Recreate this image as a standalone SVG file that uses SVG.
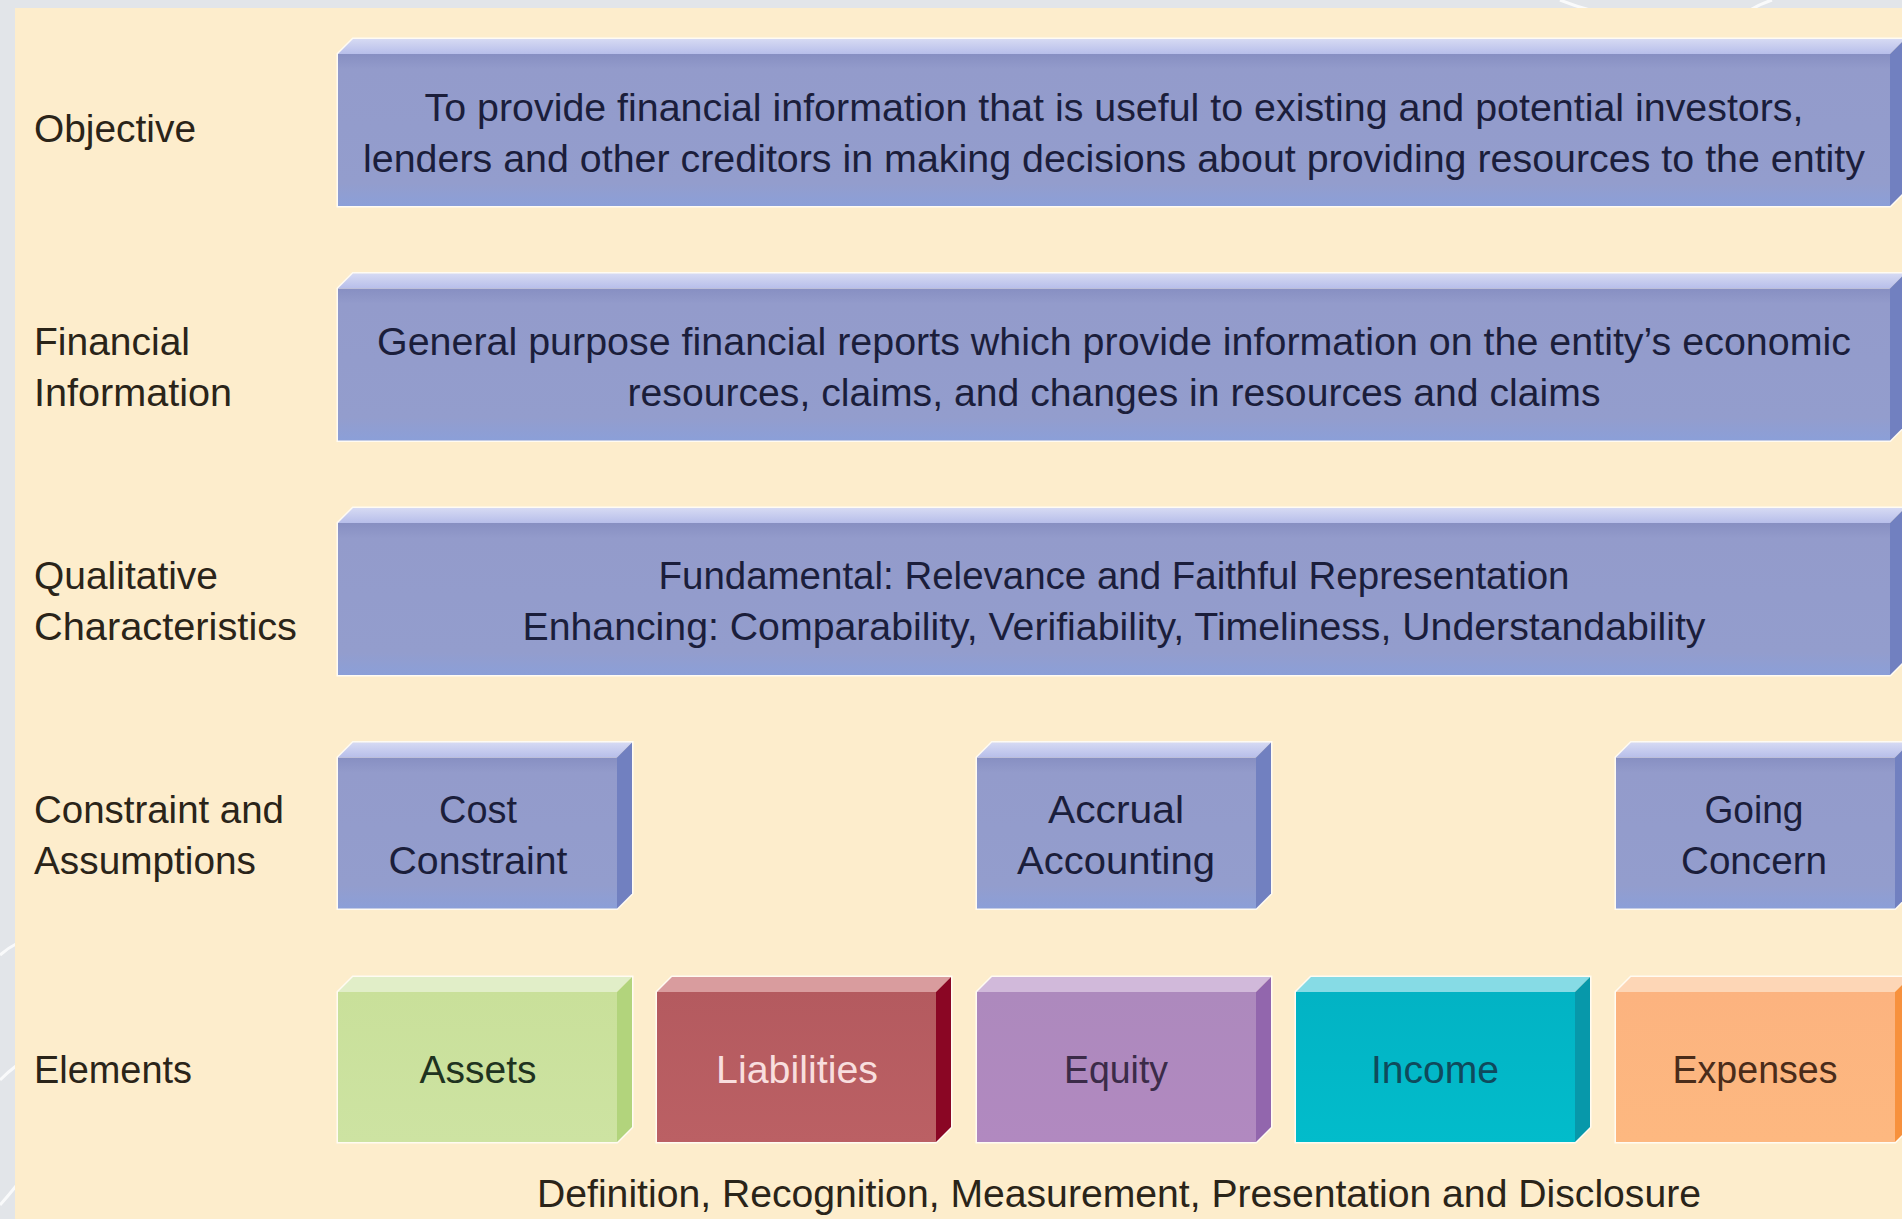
<svg xmlns="http://www.w3.org/2000/svg" width="1902" height="1219" viewBox="0 0 1902 1219">
<defs>
  <linearGradient id="bFront" x1="0" y1="0" x2="0" y2="1">
    <stop offset="0" stop-color="#878fc2"/>
    <stop offset="0.1" stop-color="#939bcb"/>
    <stop offset="0.85" stop-color="#939dcd"/>
    <stop offset="1" stop-color="#8b9fd8"/>
  </linearGradient>
  <linearGradient id="bTop" x1="0" y1="0" x2="0" y2="1">
    <stop offset="0" stop-color="#d6daf3"/>
    <stop offset="1" stop-color="#b7beea"/>
  </linearGradient>
  <linearGradient id="gFront" x1="0" y1="0" x2="0" y2="1">
    <stop offset="0" stop-color="#c9e09a"/>
    <stop offset="1" stop-color="#cde3a2"/>
  </linearGradient>
  <linearGradient id="rFront" x1="0" y1="0" x2="0" y2="1">
    <stop offset="0" stop-color="#b45a5f"/>
    <stop offset="1" stop-color="#bb6064"/>
  </linearGradient>
  <linearGradient id="pFront" x1="0" y1="0" x2="0" y2="1">
    <stop offset="0" stop-color="#ad89bd"/>
    <stop offset="1" stop-color="#b189c0"/>
  </linearGradient>
  <linearGradient id="cFront" x1="0" y1="0" x2="0" y2="1">
    <stop offset="0" stop-color="#02b3c4"/>
    <stop offset="1" stop-color="#02bccb"/>
  </linearGradient>
  <linearGradient id="oFront" x1="0" y1="0" x2="0" y2="1">
    <stop offset="0" stop-color="#fcb37f"/>
    <stop offset="1" stop-color="#fdb880"/>
  </linearGradient>
</defs>
<style>
  .lbl{font-family:"Liberation Sans",Arial,sans-serif;font-size:38px;fill:#2a2419}
  .bt{font-family:"Liberation Sans",Arial,sans-serif;font-size:38px;fill:#1b1e3b;text-anchor:middle}
  .glow{fill:none;stroke:#ffffff;stroke-opacity:0.75;stroke-width:3}
  .blue .front{fill:url(#bFront)}
  .blue .top{fill:url(#bTop)}
  .blue .side{fill:#7180c0}
  .green .front{fill:url(#gFront)}
  .green .top{fill:#e1eec8}
  .green .side{fill:#b2d47c}
  .red .front{fill:url(#rFront)}
  .red .top{fill:#d99c9e}
  .red .side{fill:#8a0624}
  .purple .front{fill:url(#pFront)}
  .purple .top{fill:#d1b9da}
  .purple .side{fill:#9266ad}
  .cyan .front{fill:url(#cFront)}
  .cyan .top{fill:#86dbe5}
  .cyan .side{fill:#0798aa}
  .orange .front{fill:url(#oFront)}
  .orange .top{fill:#fdd6b6}
  .orange .side{fill:#f7913d}
  .deco{fill:none;stroke:#ffffff;stroke-width:3;stroke-opacity:0.8}
</style>

<!-- background -->
<rect x="0" y="0" width="1902" height="1219" fill="#e2e5e9"/>
<path class="deco" d="M1560,0 Q1575,6 1590,10"/>
<path class="deco" d="M1750,10 Q1760,4 1772,0"/>
<path class="deco" d="M0,955 Q8,948 16,944"/>
<path class="deco" d="M0,1080 Q8,1072 16,1066"/>
<path class="deco" d="M0,1205 Q8,1196 16,1186"/>
<rect x="15" y="8" width="1887" height="1211" fill="#fdedcc"/>

<!-- row labels -->
<g id="labels">
  <text class="lbl" x="34" y="142" textLength="162" lengthAdjust="spacingAndGlyphs">Objective</text>
  <text class="lbl" x="34" y="355" textLength="156" lengthAdjust="spacingAndGlyphs">Financial</text>
  <text class="lbl" x="34" y="406" textLength="198" lengthAdjust="spacingAndGlyphs">Information</text>
  <text class="lbl" x="34" y="589" textLength="184" lengthAdjust="spacingAndGlyphs">Qualitative</text>
  <text class="lbl" x="34" y="640" textLength="263" lengthAdjust="spacingAndGlyphs">Characteristics</text>
  <text class="lbl" x="34" y="823" textLength="250" lengthAdjust="spacingAndGlyphs">Constraint and</text>
  <text class="lbl" x="34" y="874" textLength="222" lengthAdjust="spacingAndGlyphs">Assumptions</text>
  <text class="lbl" x="34" y="1083" textLength="158" lengthAdjust="spacingAndGlyphs">Elements</text>
</g>

<!-- wide rows -->
<g id="objective" class="blue" transform="translate(338,54)">
  <path class="glow" d="M0,0 L15,-15 L1567,-15 L1567,137 L1552,152 L0,152 Z"/>
  <rect class="front" x="0" y="0" width="1552" height="152"/>
  <polygon class="top" points="0,0 15,-15 1567,-15 1552,0"/>
  <polygon class="side" points="1552,0 1567,-15 1567,137 1552,152"/>
  <text class="bt" x="776" y="67" textLength="1379" lengthAdjust="spacingAndGlyphs">To provide financial information that is useful to existing and potential investors,</text>
  <text class="bt" x="776" y="118" textLength="1502" lengthAdjust="spacingAndGlyphs">lenders and other creditors in making decisions about providing resources to the entity</text>
</g>

<g id="financial-information" class="blue" transform="translate(338,288.5)">
  <path class="glow" d="M0,0 L15,-15 L1567,-15 L1567,137 L1552,152 L0,152 Z"/>
  <rect class="front" x="0" y="0" width="1552" height="152"/>
  <polygon class="top" points="0,0 15,-15 1567,-15 1552,0"/>
  <polygon class="side" points="1552,0 1567,-15 1567,137 1552,152"/>
  <text class="bt" x="776" y="66.5" textLength="1474" lengthAdjust="spacingAndGlyphs">General purpose financial reports which provide information on the entity’s economic</text>
  <text class="bt" x="776" y="117.5" textLength="973" lengthAdjust="spacingAndGlyphs">resources, claims, and changes in resources and claims</text>
</g>

<g id="qualitative-characteristics" class="blue" transform="translate(338,523)">
  <path class="glow" d="M0,0 L15,-15 L1567,-15 L1567,137 L1552,152 L0,152 Z"/>
  <rect class="front" x="0" y="0" width="1552" height="152"/>
  <polygon class="top" points="0,0 15,-15 1567,-15 1552,0"/>
  <polygon class="side" points="1552,0 1567,-15 1567,137 1552,152"/>
  <text class="bt" x="776" y="66" textLength="911" lengthAdjust="spacingAndGlyphs">Fundamental: Relevance and Faithful Representation</text>
  <text class="bt" x="776" y="117" textLength="1183" lengthAdjust="spacingAndGlyphs">Enhancing: Comparability, Verifiability, Timeliness, Understandability</text>
</g>

<!-- constraint & assumptions -->
<g id="cost-constraint" class="blue" transform="translate(338,757.5)">
  <path class="glow" d="M0,0 L15,-15 L294,-15 L294,136 L279,151 L0,151 Z"/>
  <rect class="front" x="0" y="0" width="279" height="151"/>
  <polygon class="top" points="0,0 15,-15 294,-15 279,0"/>
  <polygon class="side" points="279,0 294,-15 294,136 279,151"/>
  <text class="bt" x="140" y="65.5" textLength="78" lengthAdjust="spacingAndGlyphs">Cost</text>
  <text class="bt" x="140" y="116.5" textLength="179" lengthAdjust="spacingAndGlyphs">Constraint</text>
</g>

<g id="accrual-accounting" class="blue" transform="translate(977,757.5)">
  <path class="glow" d="M0,0 L15,-15 L294,-15 L294,136 L279,151 L0,151 Z"/>
  <rect class="front" x="0" y="0" width="279" height="151"/>
  <polygon class="top" points="0,0 15,-15 294,-15 279,0"/>
  <polygon class="side" points="279,0 294,-15 294,136 279,151"/>
  <text class="bt" x="139" y="65.5" textLength="136" lengthAdjust="spacingAndGlyphs">Accrual</text>
  <text class="bt" x="139" y="116.5" textLength="198" lengthAdjust="spacingAndGlyphs">Accounting</text>
</g>

<g id="going-concern" class="blue" transform="translate(1616,757.5)">
  <path class="glow" d="M0,0 L15,-15 L294,-15 L294,136 L279,151 L0,151 Z"/>
  <rect class="front" x="0" y="0" width="279" height="151"/>
  <polygon class="top" points="0,0 15,-15 294,-15 279,0"/>
  <polygon class="side" points="279,0 294,-15 294,136 279,151"/>
  <text class="bt" x="138" y="65.5" textLength="99" lengthAdjust="spacingAndGlyphs">Going</text>
  <text class="bt" x="138" y="116.5" textLength="146" lengthAdjust="spacingAndGlyphs">Concern</text>
</g>

<!-- elements -->
<g id="assets" class="green" transform="translate(338,992)">
  <path class="glow" d="M0,0 L15,-15 L294,-15 L294,135 L279,150 L0,150 Z"/>
  <rect class="front" x="0" y="0" width="279" height="150"/>
  <polygon class="top" points="0,0 15,-15 294,-15 279,0"/>
  <polygon class="side" points="279,0 294,-15 294,135 279,150"/>
  <text class="bt" x="140" y="91" fill="#1f3320" style="fill:#1f3320" textLength="117" lengthAdjust="spacingAndGlyphs">Assets</text>
</g>

<g id="liabilities" class="red" transform="translate(657,992)">
  <path class="glow" d="M0,0 L15,-15 L294,-15 L294,135 L279,150 L0,150 Z"/>
  <rect class="front" x="0" y="0" width="279" height="150"/>
  <polygon class="top" points="0,0 15,-15 294,-15 279,0"/>
  <polygon class="side" points="279,0 294,-15 294,135 279,150"/>
  <text class="bt" x="140" y="91" style="fill:#f8dede" textLength="162" lengthAdjust="spacingAndGlyphs">Liabilities</text>
</g>

<g id="equity" class="purple" transform="translate(977,992)">
  <path class="glow" d="M0,0 L15,-15 L294,-15 L294,135 L279,150 L0,150 Z"/>
  <rect class="front" x="0" y="0" width="279" height="150"/>
  <polygon class="top" points="0,0 15,-15 294,-15 279,0"/>
  <polygon class="side" points="279,0 294,-15 294,135 279,150"/>
  <text class="bt" x="139" y="91" style="fill:#3b2b48" textLength="104" lengthAdjust="spacingAndGlyphs">Equity</text>
</g>

<g id="income" class="cyan" transform="translate(1296,992)">
  <path class="glow" d="M0,0 L15,-15 L294,-15 L294,135 L279,150 L0,150 Z"/>
  <rect class="front" x="0" y="0" width="279" height="150"/>
  <polygon class="top" points="0,0 15,-15 294,-15 279,0"/>
  <polygon class="side" points="279,0 294,-15 294,135 279,150"/>
  <text class="bt" x="139" y="91" style="fill:#0f4a5c" textLength="128" lengthAdjust="spacingAndGlyphs">Income</text>
</g>

<g id="expenses" class="orange" transform="translate(1616,992)">
  <path class="glow" d="M0,0 L15,-15 L294,-15 L294,135 L279,150 L0,150 Z"/>
  <rect class="front" x="0" y="0" width="279" height="150"/>
  <polygon class="top" points="0,0 15,-15 294,-15 279,0"/>
  <polygon class="side" points="279,0 294,-15 294,135 279,150"/>
  <text class="bt" x="139" y="91" style="fill:#4a2c1a" textLength="165" lengthAdjust="spacingAndGlyphs">Expenses</text>
</g>

<g id="connectors"/>

<g id="footnote">
  <text class="lbl" x="1119" y="1207" text-anchor="middle" textLength="1164" lengthAdjust="spacingAndGlyphs">Definition, Recognition, Measurement, Presentation and Disclosure</text>
</g>
</svg>
